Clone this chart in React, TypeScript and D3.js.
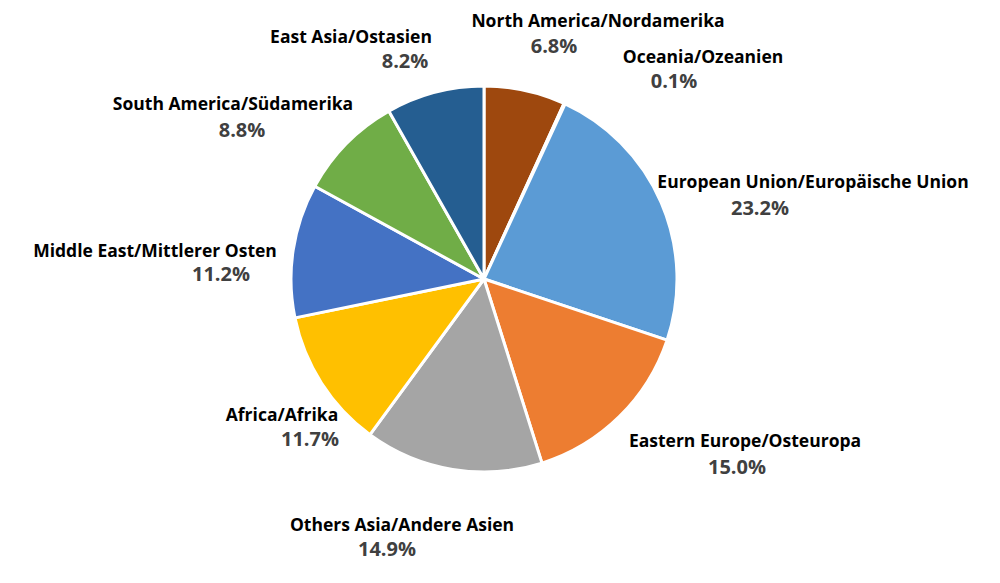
import React from "react";
import * as d3 from "d3";

const regions = [
  "North America/Nordamerika",
  "Oceania/Ozeanien",
  "European Union/Europäische Union",
  "Eastern Europe/Osteuropa",
  "Others Asia/Andere Asien",
  "Africa/Afrika",
  "Middle East/Mittlerer Osten",
  "South America/Südamerika",
  "East Asia/Ostasien",
];
const shares = [6.8, 0.1, 23.2, 15.0, 14.9, 11.7, 11.2, 8.8, 8.2];
const colors = [
  "#9E480E",
  "#636363",
  "#5B9BD5",
  "#ED7D31",
  "#A5A5A5",
  "#FFC000",
  "#4472C4",
  "#70AD47",
  "#255E91",
];
// label layout: offsets from pie centre [nameDx, nameDy, pctDx, pctDy]
const labelLayout = [
  [114, -252, 70, -226],
  [219, -216, 190, -191],
  [329, -91, 276, -64],
  [261, 168, 253, 195],
  [-82, 252, -97, 277],
  [-202, 142, -174, 167],
  [-329, -22, -263, 2],
  [-251, -169, -242, -142],
  [-133, -236, -79, -211],
];

const W = 1000;
const H = 583;
const cx = 484;
const cy = 279;
const R = 193;

export default function App() {
  const pie = d3
    .pie<number>()
    .sort(null)
    .value((d) => d)
    .startAngle(0)
    .endAngle(2 * Math.PI);
  const arcs = pie(shares);
  const arc = d3.arc<d3.PieArcDatum<number>>().innerRadius(0).outerRadius(R);
  const font = "'Open Sans', 'Noto Sans', sans-serif";
  return (
    <svg
      width={W}
      height={H}
      style={{ position: "absolute", left: 0, top: 0, background: "#fff" }}
    >
      <g transform={`translate(${cx},${cy})`}>
        {arcs.map((a, i) => (
          <path
            key={i}
            d={arc(a) || ""}
            fill={colors[i]}
            stroke="#fff"
            strokeWidth={3}
            strokeLinejoin="round"
          />
        ))}
        {arcs.map((a, i) => {
          const [nx, ny, px, py] = labelLayout[i];
          return (
            <g key={"l" + i} fontFamily={font} fontWeight={700}>
              <text
                x={nx}
                y={ny}
                textAnchor="middle"
                fontSize={17.5}
                fill="#000"
              >
                {regions[i]}
              </text>
              <text
                x={px}
                y={py}
                textAnchor="middle"
                fontSize={20}
                fill="#404040"
              >
                {d3.format(".1f")(shares[i]) + "%"}
              </text>
            </g>
          );
        })}
      </g>
    </svg>
  );
}
